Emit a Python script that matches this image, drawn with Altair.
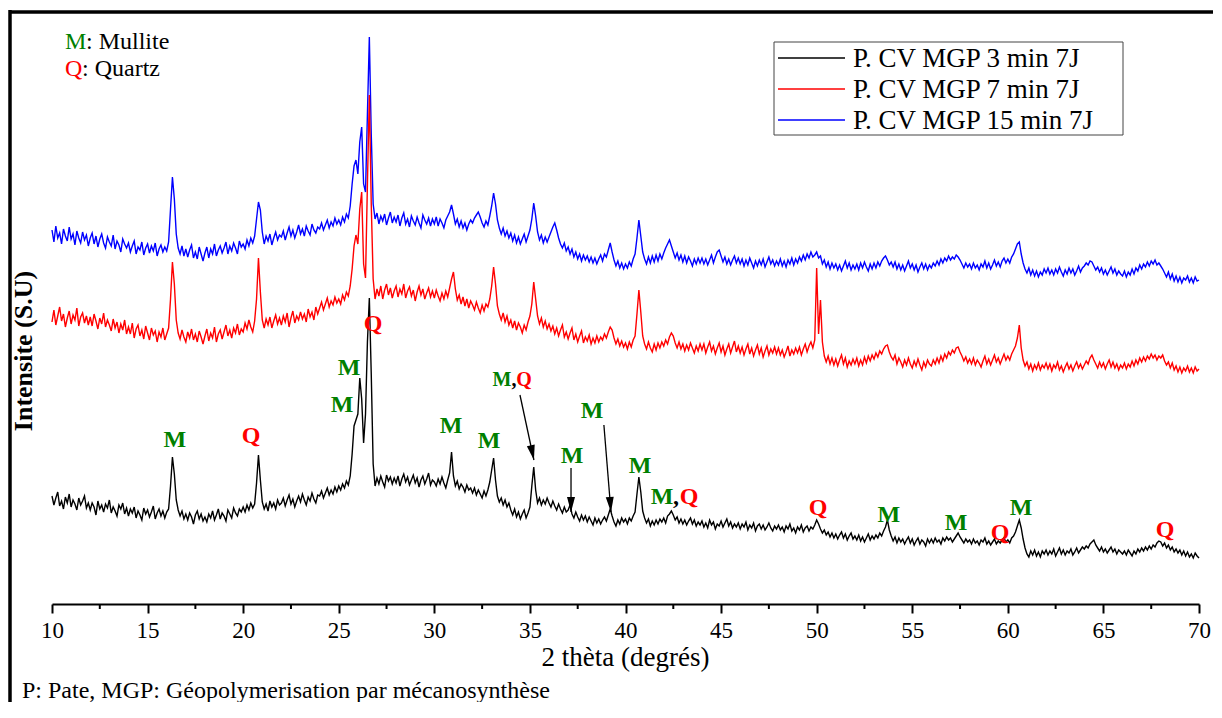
import math
import altair as alt
import pandas as pd

# ---------------- data ----------------
# 2-theta sampling of the three diffractograms (degrees)
TWO_THETA_START = 10.0
TWO_THETA_STEP = 0.1

SERIES = ["P. CV MGP 3 min 7J", "P. CV MGP 7 min 7J", "P. CV MGP 15 min 7J"]
COLORS = ["#000000", "#ff0000", "#0000ff"]

# intensities (a.u., curves offset as in the figure); 20 values per row = 2 degrees
I_3MIN = [
    108, 99, 106, 112, 98, 103, 95, 107, 101, 110, 97, 104, 100, 94, 106, 99, 103, 108, 96, 101,
    94, 101, 97, 89, 103, 95, 99, 92, 100, 96, 104, 91, 97, 93, 88, 99, 95, 101, 90, 96,
    88, 95, 91, 97, 86, 93, 89, 84, 96, 90, 94, 87, 92, 98, 85, 91, 95, 88, 93, 86,
    92, 95, 118, 147, 130, 104, 94, 88, 93, 85, 90, 84, 91, 87, 80, 89, 93, 85, 90, 83,
    87, 82, 90, 86, 93, 84, 89, 95, 85, 91, 88, 83, 94, 90, 86, 96, 91, 88, 95, 92,
    97, 92, 99, 94, 101, 96, 100, 121, 149, 124, 102, 95, 100, 93, 103, 97, 101, 95, 104, 99,
    101, 106, 98, 104, 109, 100, 105, 97, 103, 108, 102, 110, 104, 99, 107, 103, 111, 105, 101, 109,
    108, 113, 106, 111, 116, 109, 114, 110, 117, 112, 118, 114, 120, 116, 123, 119, 128, 150, 178, 184,
    190, 226, 205, 161, 190, 262, 306, 230, 140, 118, 126, 120, 128, 122, 117, 129, 123, 127, 120, 126,
    121, 128, 118, 125, 130, 122, 127, 119, 124, 129, 121, 126, 117, 124, 128, 120, 125, 131, 119, 124,
    122, 118, 125, 120, 127, 121, 116, 124, 131, 152, 128, 118, 123, 115, 120, 117, 112, 119, 114, 116,
    111, 116, 109, 114, 110, 106, 113, 108, 114, 122, 134, 146, 124, 108, 102, 106, 99, 104, 97, 101,
    94, 89, 95, 87, 92, 85, 90, 94, 86, 91, 97, 118, 137, 114, 101, 106, 99, 104, 100, 106,
    101, 97, 103, 98, 94, 100, 95, 91, 97, 92, 94, 99, 90, 86, 92, 87, 83, 89, 84, 88,
    82, 87, 83, 79, 86, 81, 85, 80, 84, 87, 83, 89, 95, 88, 82, 78, 84, 80, 86, 82,
    85, 80, 86, 83, 88, 92, 110, 127, 112, 93, 86, 81, 85, 78, 83, 79, 84, 80, 85, 82,
    86, 81, 88, 90, 93, 89, 84, 87, 81, 85, 80, 84, 79, 83, 86, 80, 84, 78, 82, 79,
    83, 77, 81, 76, 84, 79, 82, 75, 80, 78, 83, 77, 81, 85, 78, 82, 76, 80, 77, 81,
    75, 80, 77, 82, 74, 79, 76, 81, 73, 78, 80, 75, 79, 74, 77, 81, 76, 73, 78, 75,
    79, 74, 77, 72, 78, 75, 80, 73, 76, 71, 77, 74, 79, 72, 76, 78, 73, 77, 75, 79,
    84, 80, 75, 71, 74, 69, 72, 67, 71, 66, 70, 65, 69, 72, 66, 70, 64, 68, 71, 65,
    68, 64, 69, 63, 67, 62, 66, 70, 64, 68, 65, 69, 66, 71, 68, 73, 77, 84, 74, 68,
    63, 67, 61, 66, 62, 65, 60, 64, 67, 61, 65, 59, 63, 66, 60, 64, 62, 58, 65, 61,
    65, 61, 66, 62, 64, 60, 66, 63, 67, 64, 66, 62, 65, 68, 71, 67, 64, 61, 65, 62,
    64, 60, 65, 61, 63, 59, 64, 62, 66, 60, 63, 59, 62, 65, 60, 63, 61, 64, 66, 62,
    64, 61, 66, 68, 72, 78, 84, 76, 65, 56, 50, 47, 53, 49, 54, 48, 52, 47, 53, 50,
    54, 49, 53, 50, 55, 48, 52, 56, 50, 54, 49, 53, 51, 55, 49, 52, 56, 51, 54, 57,
    55, 58, 56, 60, 62, 64, 59, 56, 53, 57, 52, 55, 51, 54, 57, 52, 55, 50, 54, 52,
    50, 53, 49, 54, 51, 48, 53, 50, 55, 52, 56, 53, 57, 54, 58, 55, 59, 57, 61, 63,
    62, 58, 61, 56, 59, 54, 57, 52, 55, 51, 54, 49, 53, 48, 52, 47, 50, 46, 51, 48,
    46,
]

I_7MIN = [
    282, 294, 279, 288, 297, 283, 290, 277, 286, 293, 280, 289, 284, 296, 278, 287, 291, 281, 288, 279,
    287, 278, 290, 283, 275, 286, 280, 291, 277, 284, 279, 273, 285, 276, 282, 271, 280, 274, 284, 270,
    277, 270, 281, 266, 275, 279, 268, 274, 265, 278, 271, 264, 276, 269, 273, 262, 272, 267, 276, 264,
    270, 276, 305, 342, 320, 284, 271, 265, 274, 267, 262, 272, 266, 275, 264, 270, 262, 273, 267, 260,
    268, 275, 263, 271, 266, 277, 262, 270, 274, 265, 272, 279, 268, 274, 266, 276, 271, 280, 269, 275,
    272, 281, 275, 284, 277, 272, 283, 305, 346, 312, 284, 276, 285, 279, 287, 276, 283, 289, 280, 286,
    279, 288, 282, 291, 277, 286, 293, 281, 288, 284, 292, 285, 290, 282, 295, 287, 292, 284, 297, 290,
    296, 302, 294, 300, 306, 297, 303, 299, 307, 301, 305, 300, 309, 304, 312, 308, 318, 335, 358, 369,
    360, 395, 412, 340, 326, 420, 509, 400, 325, 305, 315, 308, 318, 305, 314, 320, 309, 316, 306, 313,
    318, 307, 315, 310, 320, 306, 313, 317, 308, 314, 303, 312, 318, 309, 315, 305, 311, 316, 307, 313,
    306, 314, 308, 303, 311, 305, 313, 307, 316, 325, 332, 315, 304, 309, 300, 307, 298, 305, 296, 303,
    299, 294, 302, 296, 291, 299, 293, 300, 297, 305, 318, 337, 320, 298, 290, 284, 291, 282, 288, 279,
    284, 276, 283, 274, 281, 277, 271, 279, 274, 282, 288, 300, 322, 305, 288, 280, 286, 277, 283, 275,
    280, 273, 278, 270, 276, 268, 274, 279, 267, 272, 265, 271, 276, 264, 270, 262, 268, 273, 261, 267,
    263, 269, 260, 266, 261, 268, 262, 267, 264, 270, 266, 272, 277, 274, 266, 260, 265, 258, 263, 257,
    261, 255, 262, 257, 264, 268, 290, 314, 292, 268, 260, 255, 262, 256, 252, 260, 254, 261, 256, 262,
    258, 264, 260, 267, 271, 268, 261, 256, 262, 255, 260, 253, 259, 254, 261, 256, 251, 258, 253, 260,
    254, 260, 251, 257, 262, 253, 258, 250, 256, 261, 252, 258, 249, 255, 260, 251, 257, 263, 252, 258,
    251, 257, 249, 255, 260, 250, 256, 248, 254, 259, 250, 256, 247, 253, 258, 249, 255, 251, 257, 250,
    256, 249, 254, 247, 252, 258, 248, 254, 250, 256, 251, 257, 249, 255, 260, 252, 258, 262, 256, 264,
    336, 270, 304, 262, 248, 242, 248, 240, 246, 239, 245, 238, 244, 249, 240, 246, 237, 243, 239, 245,
    240, 246, 238, 244, 239, 247, 241, 248, 243, 249, 245, 251, 247, 253, 250, 255, 258, 259, 252, 247,
    244, 249, 240, 246, 242, 237, 244, 239, 246, 240, 236, 243, 238, 245, 239, 234, 242, 237, 244, 240,
    238, 244, 240, 246, 241, 248, 243, 250, 246, 252, 249, 254, 251, 256, 257, 252, 248, 243, 247, 241,
    245, 240, 246, 239, 244, 241, 237, 243, 248, 240, 245, 239, 244, 249, 242, 246, 240, 245, 250, 244,
    248, 244, 250, 254, 258, 266, 279, 256, 244, 238, 242, 235, 240, 233, 239, 235, 241, 234, 239, 236,
    241, 235, 240, 233, 239, 236, 242, 234, 238, 232, 237, 241, 235, 239, 233, 238, 242, 236, 240, 235,
    239, 243, 240, 246, 249, 244, 240, 236, 242, 237, 241, 235, 240, 244, 237, 242, 236, 240, 234, 239,
    236, 241, 235, 240, 237, 243, 238, 244, 240, 246, 242, 247, 243, 248, 245, 250, 246, 249, 244, 248,
    246, 249, 243, 239, 242, 236, 241, 234, 238, 232, 237, 231, 236, 233, 238, 232, 236, 231, 237, 233,
    235,
]

I_15MIN = [
    374, 362, 378, 366, 371, 360, 375, 368, 363, 377, 365, 370, 359, 373, 366, 361, 372, 364, 369, 358,
    366, 371, 360, 368, 357, 365, 370, 361, 356, 367, 362, 358, 369, 355, 363, 359, 352, 365, 360, 356,
    361, 352, 358, 363, 350, 357, 354, 362, 349, 356, 360, 351, 358, 353, 361, 348, 355, 359, 352, 357,
    353, 362, 395, 427, 405, 370, 356, 350, 358, 348, 355, 347, 354, 359, 346, 352, 345, 357, 350, 343,
    351, 357, 346, 355, 350, 360, 348, 354, 358, 351, 356, 362, 350, 358, 353, 361, 356, 350, 363, 357,
    360, 355, 364, 358, 366, 361, 368, 385, 402, 394, 372, 360, 368, 363, 370, 359, 366, 372, 364, 369,
    367, 373, 364, 371, 377, 368, 374, 366, 372, 379, 370, 375, 368, 378, 373, 369, 380, 374, 371, 377,
    375, 381, 374, 379, 384, 376, 382, 378, 386, 380, 384, 379, 387, 382, 390, 386, 398, 420, 438, 444,
    430, 462, 477, 420, 412, 490, 567, 470, 400, 385, 391, 380, 388, 383, 390, 379, 386, 392, 381, 387,
    382, 389, 378, 386, 391, 380, 385, 377, 388, 383, 379, 387, 381, 376, 389, 384, 380, 386, 378, 385,
    380, 387, 378, 385, 381, 376, 384, 388, 392, 399, 390, 380, 385, 377, 383, 376, 381, 374, 380, 384,
    381, 386, 389, 392, 387, 381, 377, 383, 379, 388, 398, 411, 400, 384, 376, 370, 376, 368, 373, 366,
    371, 363, 369, 361, 367, 360, 365, 370, 362, 368, 374, 385, 401, 388, 372, 364, 369, 361, 367, 362,
    367, 372, 377, 381, 374, 366, 360, 356, 361, 353, 357, 350, 355, 347, 352, 345, 350, 343, 349, 344,
    348, 342, 347, 341, 346, 340, 345, 349, 343, 350, 347, 354, 361, 352, 344, 338, 343, 336, 341, 335,
    340, 336, 342, 338, 345, 350, 366, 384, 368, 352, 345, 340, 347, 341, 348, 342, 349, 343, 350, 345,
    351, 356, 360, 364, 358, 352, 346, 351, 344, 349, 342, 348, 341, 347, 343, 338, 345, 340, 346, 341,
    346, 340, 345, 339, 344, 349, 341, 347, 352, 354, 348, 342, 347, 340, 345, 339, 344, 348, 341, 346,
    340, 345, 338, 344, 339, 346, 341, 336, 343, 338, 344, 339, 345, 337, 342, 347, 340, 344, 338, 343,
    339, 345, 338, 343, 337, 344, 340, 346, 339, 345, 341, 347, 343, 349, 344, 350, 346, 352, 347, 349,
    352, 346, 348, 340, 344, 337, 342, 335, 341, 336, 340, 334, 339, 333, 338, 343, 336, 341, 334, 339,
    335, 340, 334, 341, 336, 342, 337, 333, 340, 335, 341, 336, 342, 338, 343, 346, 348, 344, 339, 342,
    337, 342, 335, 340, 334, 339, 333, 338, 343, 336, 340, 334, 339, 332, 337, 341, 335, 340, 334, 339,
    336, 341, 338, 343, 339, 345, 341, 346, 343, 348, 344, 347, 345, 349, 347, 344, 340, 336, 341, 337,
    340, 335, 341, 336, 339, 334, 340, 337, 343, 336, 341, 335, 339, 344, 338, 342, 337, 343, 346, 341,
    345, 341, 347, 350, 355, 360, 362, 350, 341, 335, 331, 336, 329, 334, 328, 333, 327, 332, 329, 335,
    331, 336, 330, 334, 329, 335, 331, 337, 332, 328, 334, 330, 336, 331, 335, 329, 333, 338, 332, 336,
    338, 341, 339, 343, 342, 338, 334, 337, 332, 336, 330, 334, 329, 333, 337, 331, 335, 329, 333, 330,
    328, 333, 327, 332, 329, 335, 330, 336, 333, 339, 335, 340, 337, 342, 338, 343, 340, 344, 339, 341,
    338, 335, 331, 327, 332, 325, 330, 323, 328, 322, 327, 321, 326, 324, 328, 322, 326, 321, 327, 323,
    324,
]

MAJOR_TICKS = [10, 15, 20, 25, 30, 35, 40, 45, 50, 55, 60, 65, 70]
MINOR_TICKS = [12.5, 17.5, 22.5, 27.5, 32.5, 37.5, 42.5, 47.5, 52.5, 57.5, 62.5, 67.5]

# peak labels (position in 2-theta, intensity, text)
LBL_THETA = [16.43, 20.41, 25.17, 25.54, 26.79, 30.87, 32.86, 37.20, 38.25, 40.76,
             41.91, 42.64, 43.33, 50.07, 53.78, 57.29, 59.59, 60.69, 68.22]
LBL_I = [164, 168, 199, 236, 280, 178, 163, 148, 193, 138,
         107, 107, 107, 96, 89, 81, 71, 96, 74]
LBL_TEXT = ["M", "Q", "M", "M", "Q", "M", "M", "M", "M", "M",
            "M", ",", "Q", "Q", "M", "M", "Q", "M", "Q"]

SMALL_THETA = [33.54, 34.17, 34.69]
SMALL_I = [224, 224, 224]
SMALL_TEXT = ["M", ",", "Q"]

# arrows (start -> tip) in data coordinates
ARROW_THETA0 = [34.48, 37.15, 38.87]
ARROW_I0 = [209, 136, 179]
ARROW_THETA1 = [35.21, 37.15, 39.24]
ARROW_I1 = [144, 92, 92]

# ---------------- layout ----------------
W, H = 1147, 594
PX_PER_DEG = W / 60.0
GREEN, RED = "#008000", "#ff0000"
SERIF = "Liberation Serif, Times New Roman, Tinos, DejaVu Serif, serif"
PHASE_COLOR = {"M": GREEN, "Q": RED, ",": "#000000"}

X_SCALE = alt.Scale(domain=[10, 70], nice=False, zero=False)
Y_SCALE = alt.Scale(domain=[0, 594], nice=False, zero=False)
X_AXIS = alt.Axis(values=MAJOR_TICKS, title=None, grid=False, domainColor="black",
                  domainWidth=2, tickColor="black", tickWidth=2, tickSize=9,
                  labelFont=SERIF, labelFontSize=23, labelColor="black",
                  labelPadding=6, labelFlush=False)


def X(field):
    return alt.X(field, scale=X_SCALE, axis=X_AXIS)


def Y(field):
    return alt.Y(field, scale=Y_SCALE, axis=None)


def one():
    return alt.Chart(pd.DataFrame({"k": [0]}))


layers = []

# curves, drawn blue, black, red
series_vals = [I_3MIN, I_7MIN, I_15MIN]
for idx in [2, 0, 1]:
    vals = series_vals[idx]
    df = pd.DataFrame({
        "theta": [round(TWO_THETA_START + TWO_THETA_STEP * i, 2) for i in range(len(vals))],
        "I": vals,
    })
    layers.append(
        alt.Chart(df).mark_line(color=COLORS[idx], strokeWidth=1.4)
        .encode(x=X("theta:Q"), y=Y("I:Q"))
    )

# minor ticks
layers.append(
    alt.Chart(pd.DataFrame({"theta": MINOR_TICKS})).mark_rule(color="black", strokeWidth=2)
    .encode(x=X("theta:Q"), y=alt.value(H), y2=alt.value(H + 5))
)

# peak labels
lbl = pd.DataFrame({"theta": LBL_THETA, "I": LBL_I, "t": LBL_TEXT})
lbl["c"] = lbl["t"].map(PHASE_COLOR)
layers.append(
    alt.Chart(lbl).mark_text(font=SERIF, fontSize=24, fontWeight="bold", baseline="middle")
    .encode(x=X("theta:Q"), y=Y("I:Q"), text="t:N", color=alt.Color("c:N", scale=None))
)
sml = pd.DataFrame({"theta": SMALL_THETA, "I": SMALL_I, "t": SMALL_TEXT})
sml["c"] = sml["t"].map(PHASE_COLOR)
layers.append(
    alt.Chart(sml).mark_text(font=SERIF, fontSize=20, fontWeight="bold", baseline="middle")
    .encode(x=X("theta:Q"), y=Y("I:Q"), text="t:N", color=alt.Color("c:N", scale=None))
)

# arrows
arr = pd.DataFrame({"theta": ARROW_THETA0, "I": ARROW_I0,
                    "theta2": ARROW_THETA1, "I2": ARROW_I1})
arr["ang"] = [
    (-math.degrees(math.atan2((t1 - t0) * PX_PER_DEG, (i0 - i1)))) % 360
    for t0, i0, t1, i1 in zip(ARROW_THETA0, ARROW_I0, ARROW_THETA1, ARROW_I1)
]
layers.append(
    alt.Chart(arr).mark_rule(color="black", strokeWidth=1.3)
    .encode(x=X("theta:Q"), y=Y("I:Q"), x2="theta2:Q", y2="I2:Q")
)
layers.append(
    alt.Chart(arr).mark_point(shape="M-0.8,-3L0.8,-3L0,0Z", size=100, filled=True,
                              color="black", opacity=1)
    .encode(x=X("theta2:Q"), y=Y("I2:Q"), angle=alt.Angle("ang:Q", scale=None))
)

# key M / Q
key_y = [39, 66]
key_letters = ["M", "Q"]
key_rest = [": Mullite", ": Quartz"]
key_rest_x = [34, 30]
for j in range(2):
    layers.append(one().mark_text(text=key_letters[j], font=SERIF, fontSize=24, align="left",
                                  baseline="alphabetic", color=PHASE_COLOR[key_letters[j]])
                  .encode(x=alt.value(13), y=alt.value(key_y[j])))
    layers.append(one().mark_text(text=key_rest[j], font=SERIF, fontSize=24, align="left",
                                  baseline="alphabetic", color="black")
                  .encode(x=alt.value(key_rest_x[j]), y=alt.value(key_y[j])))

# legend box
layers.append(one().mark_rect(fill="white", stroke="#444444", strokeWidth=1)
              .encode(x=alt.value(722), x2=alt.value(1071), y=alt.value(32), y2=alt.value(125)))
for j in range(3):
    yy = 48 + 31 * j
    layers.append(one().mark_rule(color=COLORS[j], strokeWidth=1.3)
                  .encode(x=alt.value(726), x2=alt.value(793), y=alt.value(yy)))
    layers.append(one().mark_text(text=SERIES[j], font=SERIF, fontSize=27, align="left",
                                  baseline="middle", color="black")
                  .encode(x=alt.value(801), y=alt.value(yy + 1)))

# axis titles and footnote
layers.append(one().mark_text(text="2 thèta (degrés)", font=SERIF, fontSize=27, align="center",
                              baseline="alphabetic", color="black")
              .encode(x=alt.value(W / 2), y=alt.value(656)))
layers.append(one().mark_text(text="Intensite (S.U)", font=SERIF, fontSize=26, fontWeight="bold",
                              angle=270, align="center", baseline="middle", color="black")
              .encode(x=alt.value(-28), y=alt.value(341)))
layers.append(one().mark_text(text="P: Pate, MGP: Géopolymerisation par mécanosynthèse",
                              font=SERIF, fontSize=24, align="left", baseline="alphabetic",
                              color="black")
              .encode(x=alt.value(-30), y=alt.value(688)))

# figure frame (top and left edges)
layers.append(one().mark_rule(color="black", strokeWidth=3.5)
              .encode(x=alt.value(-43), x2=alt.value(1170), y=alt.value(2)))
layers.append(one().mark_rule(color="black", strokeWidth=3.5)
              .encode(x=alt.value(-42), y=alt.value(0), y2=alt.value(720)))

chart = (
    alt.layer(*layers)
    .properties(width=W, height=H,
                padding={"left": 44, "top": 2, "right": 14, "bottom": 98},
                autosize=alt.AutoSizeParams(type="none"))
    .configure_view(stroke=None)
)

chart.save("out.html", embed_options={"renderer": "svg", "actions": False})
